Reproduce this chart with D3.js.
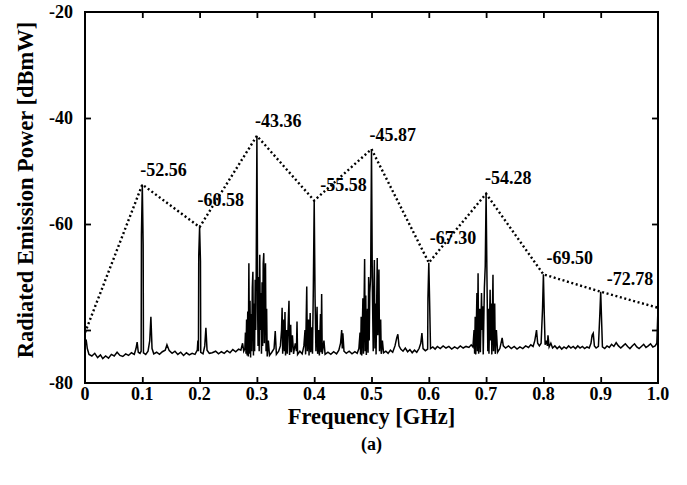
<!DOCTYPE html>
<html><head><meta charset="utf-8">
<script src="https://cdn.jsdelivr.net/npm/d3@7"></script>
<style>
html,body{margin:0;padding:0;background:#fff;}
text{font-family:"Liberation Serif","Times New Roman",serif;font-weight:bold;fill:#000;}
</style></head>
<body><svg id="c" width="687" height="485"></svg>
<script>
// ---- data ----
const xTickValues = [0,0.1,0.2,0.3,0.4,0.5,0.6,0.7,0.8,0.9,1.0];
const xTickLabels = ["0","0.1","0.2","0.3","0.4","0.5","0.6","0.7","0.8","0.9","1.0"];
const yTickValues = [-20,-40,-60,-80];
const yTickLabels = ["-20","-40","-60","-80"];
const yLabelAt = [-20,-40,-60,-90];
const envFreq = [0,0.1,0.2,0.3,0.4,0.5,0.6,0.7,0.8,0.9,1.0];
const envPower = [-80.5,-52.56,-60.58,-43.36,-55.58,-45.87,-67.30,-54.28,-69.50,-72.78,-75.8];
const peakFreq = [0.1,0.2,0.3,0.4,0.5,0.6,0.7,0.8,0.9];
const peakPower = [-52.56,-60.58,-43.36,-55.58,-45.87,-67.30,-54.28,-69.50,-72.78];
const peakLabels = ["-52.56","-60.58","-43.36","-55.58","-45.87","-67.30","-54.28","-69.50","-72.78"];
const trace = [
[0.000,-82.5],[0.002,-81.8],[0.004,-83.5],[0.007,-84.6],[0.012,-84.9],[0.017,-84.4],[0.022,-85.2],[0.027,-84.7],[0.031,-85.4],[0.036,-84.9],[0.041,-85.3],[0.046,-84.6],[0.051,-84.9],[0.056,-84.2],[0.061,-84.8],[0.066,-85.0],[0.071,-84.5],[0.076,-84.8],[0.081,-84.3],[0.086,-84.6],[0.089,-83.5],[0.091,-82.3],[0.093,-84.2],[0.096,-84.4],
[0.098,-84.0],[0.0985,-62],[0.100,-52.56],[0.1015,-64],[0.102,-84.3],[0.106,-84.6],[0.110,-84.0],[0.113,-82.0],[0.115,-77.5],[0.117,-83.5],[0.120,-84.5],[0.125,-84.2],[0.130,-84.6],[0.135,-84.1],[0.140,-83.8],[0.143,-82.8],[0.147,-83.9],[0.152,-84.4],[0.157,-84.0],[0.162,-84.6],[0.167,-84.2],[0.172,-84.8],[0.177,-84.3],[0.182,-84.7],[0.187,-84.4],[0.192,-84.6],[0.196,-83.8],[0.197,-82.0],[0.198,-84.0],[0.1985,-66],[0.200,-60.58],[0.2015,-67],[0.202,-84.2],[0.206,-84.5],[0.209,-83.0],[0.211,-79.6],[0.213,-83.8],[0.217,-84.4],
[0.222,-84.3],[0.228,-84.0],[0.233,-84.5],[0.238,-84.1],[0.243,-84.4],[0.248,-83.9],[0.253,-84.3],[0.258,-83.7],[0.263,-84.1],[0.268,-83.6],[0.272,-83.8],[0.275,-82.5],[0.277,-84.0],
[0.279,-83.5],[0.280,-80.5],[0.281,-84.5],[0.282,-78.0],[0.283,-84.8],[0.284,-76.5],[0.285,-85.0],[0.286,-67.4],[0.287,-84.5],[0.288,-74.5],[0.289,-85.2],[0.290,-77.0],[0.291,-84.0],[0.292,-72.0],[0.293,-69.0],[0.294,-84.8],[0.295,-75.0],[0.296,-84.0],[0.297,-70.5],[0.298,-80.0],[0.2985,-75],[0.300,-43.36],[0.3015,-78],[0.302,-83.0],[0.303,-70.0],[0.304,-84.0],[0.305,-65.8],[0.306,-80.0],[0.307,-73.0],[0.308,-84.5],[0.309,-71.0],[0.310,-83.0],[0.311,-67.5],[0.312,-65.5],[0.313,-82.5],[0.314,-72.0],[0.315,-67.4],[0.316,-84.0],[0.317,-76.0],[0.318,-85.0],[0.320,-82.0],[0.322,-84.8],[0.326,-84.2],[0.330,-83.5],[0.332,-80.2],[0.334,-84.6],[0.338,-84.0],[0.341,-83.0],
[0.343,-80.0],[0.344,-75.8],[0.345,-84.5],[0.347,-78.0],[0.348,-84.0],[0.349,-76.6],[0.350,-84.8],[0.352,-80.0],[0.353,-84.5],[0.355,-77.5],[0.356,-74.5],[0.357,-84.7],[0.359,-79.0],[0.360,-84.2],[0.362,-81.0],[0.364,-84.5],[0.367,-82.5],[0.369,-84.0],[0.370,-78.4],[0.371,-84.6],[0.375,-84.0],[0.379,-84.5],[0.382,-83.0],
[0.384,-80.0],[0.385,-84.6],[0.387,-71.8],[0.388,-84.0],[0.390,-78.0],[0.391,-84.8],[0.393,-76.8],[0.394,-84.2],[0.396,-79.5],[0.397,-84.5],[0.3985,-72],[0.400,-55.58],[0.4015,-74],[0.403,-84.0],[0.405,-75.6],[0.406,-84.5],[0.408,-80.0],[0.409,-84.8],[0.411,-77.0],[0.412,-84.2],[0.413,-73.2],[0.414,-84.5],[0.417,-82.0],[0.419,-84.6],
[0.424,-84.2],[0.429,-84.6],[0.434,-84.1],[0.439,-84.5],[0.443,-83.8],[0.446,-82.5],[0.448,-80.0],[0.449,-83.5],[0.450,-80.6],[0.452,-84.0],[0.456,-84.4],[0.461,-84.0],[0.466,-84.5],[0.471,-84.1],[0.475,-84.4],[0.478,-83.5],
[0.480,-80.5],[0.481,-84.6],[0.482,-77.5],[0.483,-84.8],[0.485,-74.0],[0.486,-84.5],[0.488,-66.6],[0.489,-84.0],[0.490,-73.5],[0.491,-84.7],[0.493,-76.0],[0.494,-84.3],[0.495,-70.0],[0.496,-82.0],[0.497,-73.0],[0.4985,-70],[0.500,-45.87],[0.5015,-72],[0.503,-84.0],[0.504,-72.5],[0.505,-66.8],[0.506,-83.5],[0.507,-75.0],[0.508,-84.6],[0.510,-66.4],[0.511,-81.0],[0.512,-76.0],[0.513,-68.6],[0.514,-84.0],[0.516,-78.0],[0.517,-84.5],[0.519,-82.0],[0.521,-84.3],[0.525,-84.0],[0.529,-84.4],
[0.533,-83.8],[0.537,-84.2],[0.541,-83.0],[0.544,-81.5],[0.546,-80.8],[0.548,-83.0],[0.551,-83.6],[0.555,-84.0],[0.559,-83.4],[0.563,-84.1],[0.567,-83.7],[0.571,-84.3],[0.575,-83.8],[0.579,-84.2],[0.583,-83.5],[0.586,-82.5],[0.588,-80.6],[0.590,-83.5],[0.594,-83.9],[0.598,-83.6],[0.5985,-74],[0.600,-67.30],[0.6015,-75],[0.603,-83.5],[0.607,-83.2],[0.611,-83.6],[0.615,-83.1],[0.620,-83.5],[0.625,-83.0],[0.630,-83.4],[0.635,-83.1],[0.640,-83.6],[0.645,-83.2],[0.650,-83.5],[0.655,-83.0],[0.660,-83.4],[0.665,-83.1],[0.670,-83.3],[0.674,-82.8],[0.677,-83.2],
[0.679,-80.0],[0.680,-84.5],[0.681,-77.5],[0.682,-84.6],[0.684,-73.0],[0.685,-84.0],[0.686,-69.3],[0.687,-84.5],[0.689,-76.0],[0.690,-84.2],[0.692,-73.0],[0.693,-80.0],[0.694,-75.5],[0.695,-84.6],[0.697,-72.0],[0.6985,-68],[0.700,-54.28],[0.7015,-70],[0.703,-84.0],[0.704,-76.0],[0.705,-84.5],[0.707,-72.4],[0.708,-82.0],[0.709,-75.0],[0.710,-84.6],[0.712,-69.6],[0.713,-84.0],[0.715,-75.0],[0.716,-84.5],[0.718,-80.0],[0.720,-84.2],[0.724,-83.5],[0.727,-82.0],[0.728,-81.5],[0.730,-83.0],[0.734,-83.4],
[0.739,-83.0],[0.744,-83.5],[0.749,-83.1],[0.754,-83.6],[0.759,-83.2],[0.764,-83.5],[0.769,-83.0],[0.774,-83.3],[0.778,-82.8],[0.782,-83.1],[0.785,-82.0],[0.788,-80.0],[0.790,-82.5],[0.793,-83.0],[0.796,-82.5],[0.7985,-76],[0.800,-69.50],[0.8015,-77],[0.803,-82.8],[0.805,-82.0],[0.807,-83.0],[0.808,-81.0],[0.810,-83.2],[0.813,-82.5],[0.816,-83.4],[0.820,-83.0],[0.824,-83.5],[0.828,-83.1],[0.832,-83.6],[0.836,-83.2],[0.840,-83.5],[0.844,-83.0],[0.848,-83.4],[0.852,-83.1],[0.856,-83.5],[0.860,-83.0],[0.864,-83.4],[0.868,-83.1],[0.872,-83.5],[0.876,-83.2],[0.880,-83.4],[0.883,-82.5],[0.885,-81.0],[0.887,-80.6],[0.889,-83.0],[0.892,-83.4],[0.896,-83.1],[0.8985,-77],[0.900,-72.78],[0.9015,-78],[0.903,-83.2],[0.907,-83.5],[0.911,-83.0],[0.915,-83.3],[0.919,-82.7],[0.923,-83.1],[0.927,-82.4],[0.931,-83.0],[0.935,-83.4],[0.939,-83.0],[0.943,-82.6],[0.947,-83.1],[0.951,-83.5],[0.955,-83.0],[0.959,-82.6],[0.963,-83.2],[0.967,-83.5],[0.971,-83.1],[0.975,-82.7],[0.979,-83.3],[0.983,-83.0],[0.987,-82.6],[0.991,-83.2],[0.995,-83.0],[0.998,-82.5],[1.000,-75.8]
];
// label layout offsets (px) relative to each peak tip
const labelDx = [-2,-2,-2,6,-2,1,-1,3,6];
const labelDy = [-9,-21,-9,-10,-8,-19,-10,-10,-7];

// ---- drawing ----
const svg = d3.select("#c");
const L=85, R=658, T=12, B=383;
const x = d3.scaleLinear().domain([0,1]).range([L,R]);
const y = d3.scaleLinear().domain([-90,-20]).range([B,T]);

// trace
svg.append("path").datum(trace)
  .attr("d", d3.line().x(d=>x(d[0])).y(d=>y(d[1])))
  .attr("fill","none").attr("stroke","#000").attr("stroke-width",1.5).attr("stroke-linejoin","miter");

// envelope
svg.append("path").datum(envFreq.map((f,i)=>[f,envPower[i]]))
  .attr("d", d3.line().x(d=>x(d[0])).y(d=>y(d[1])))
  .attr("fill","none").attr("stroke","#000").attr("stroke-width",2.4)
  .attr("stroke-dasharray","2,2.6");

// axes ticks (inward)
const inner = xTickValues.filter(v=>v>0 && v<1);
svg.append("g").attr("transform",`translate(0,${B})`)
  .call(d3.axisBottom(x).tickValues(inner).tickSize(-6).tickFormat(""))
  .call(g=>g.select(".domain").remove());
svg.append("g").attr("transform",`translate(0,${T})`)
  .call(d3.axisTop(x).tickValues(inner).tickSize(-6).tickFormat(""))
  .call(g=>g.select(".domain").remove());
const yInner = yTickValues.filter(v=>v>-90 && v<-20);
svg.append("g").attr("transform",`translate(${L},0)`)
  .call(d3.axisLeft(y).tickValues(yInner).tickSize(-6).tickFormat(""))
  .call(g=>g.select(".domain").remove());
svg.append("g").attr("transform",`translate(${R},0)`)
  .call(d3.axisRight(y).tickValues(yInner).tickSize(-6).tickFormat(""))
  .call(g=>g.select(".domain").remove());
svg.selectAll(".tick line").attr("stroke","#000").attr("stroke-width",1.8);

// frame
svg.append("rect").attr("x",L).attr("y",T).attr("width",R-L).attr("height",B-T)
  .attr("fill","none").attr("stroke","#000").attr("stroke-width",2);

// x tick labels
svg.append("g").selectAll("text").data(xTickValues).join("text")
  .attr("x",d=>x(d)).attr("y",B+17).attr("text-anchor","middle")
  .attr("font-size",18).text((d,i)=>xTickLabels[i]);

// y tick labels
svg.append("g").selectAll("text").data(yLabelAt).join("text")
  .attr("x",L-12).attr("y",d=>y(d)).attr("dy","0.35em").attr("text-anchor","end")
  .attr("font-size",18).text((d,i)=>yTickLabels[i]);

// peak labels
svg.append("g").selectAll("text").data(peakFreq).join("text")
  .attr("x",(d,i)=>x(d)+labelDx[i]).attr("y",(d,i)=>y(peakPower[i])+labelDy[i])
  .attr("font-size",18).text((d,i)=>peakLabels[i]);

// titles
svg.append("text").attr("x",(L+R)/2).attr("y",424).attr("text-anchor","middle")
  .attr("font-size",22.5).text("Frequency [GHz]");
svg.append("text").attr("transform",`translate(33,190) rotate(-90)`)
  .attr("text-anchor","middle").attr("font-size",22.5).text("Radiated Emission Power [dBmW]");
svg.append("text").attr("x",(L+R)/2).attr("y",450).attr("text-anchor","middle")
  .attr("font-size",18).text("(a)");
</script></body></html>
